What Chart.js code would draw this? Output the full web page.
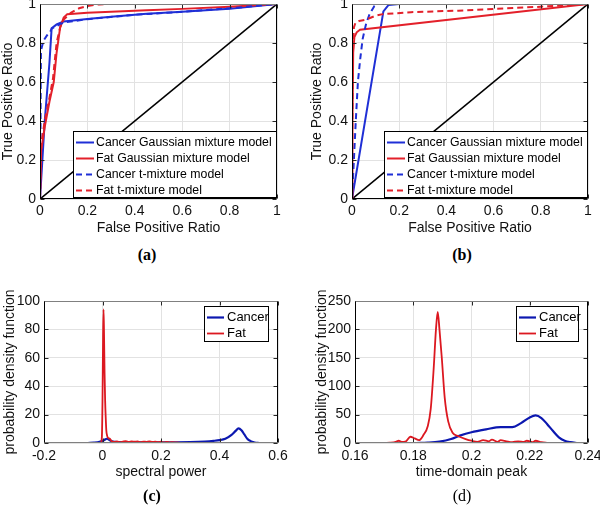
<!DOCTYPE html>
<html>
<head>
<meta charset="utf-8">
<script src="https://cdn.jsdelivr.net/npm/chart.js@4.4.1/dist/chart.umd.min.js"></script>
<style>
  html, body { margin: 0; padding: 0; background: #fff; }
  body { width: 600px; height: 508px; position: relative; overflow: hidden; }
  canvas { position: absolute; }
  .cap { position: absolute; font-family: 'Liberation Serif', 'Times New Roman', serif; font-size: 16px; color: #000; transform: translate(-50%, -50%); white-space: nowrap; }
</style>
</head>
<body>
<canvas id="cA" width="300" height="240" style="left:0;top:0"></canvas>
<canvas id="cB" width="300" height="240" style="left:300px;top:0"></canvas>
<canvas id="cC" width="300" height="210" style="left:0;top:280px"></canvas>
<canvas id="cD" width="300" height="210" style="left:300px;top:280px"></canvas>
<div class="cap" style="left:147px;top:255px;font-weight:bold">(a)</div>
<div class="cap" style="left:462px;top:255px;font-weight:bold">(b)</div>
<div class="cap" style="left:152px;top:496px;font-weight:bold">(c)</div>
<div class="cap" style="left:462px;top:496px">(d)</div>
<script>
// ---------- DATA ----------
const rocLabels = ['Cancer Gaussian mixture model', 'Fat Gaussian mixture model', 'Cancer t-mixture model', 'Fat t-mixture model'];
const pdfLabels = ['Cancer', 'Fat'];
const diagFpr = [0, 1];
const diagTpr = [0, 1];

// (a)
const aCancerGmmFpr = [0, 0.02, 0.04, 0.049, 0.07, 0.1, 0.2, 0.3, 0.45, 0.6, 0.8, 1];
const aCancerGmmTpr = [0, 0.4, 0.7, 0.875, 0.895, 0.91, 0.923, 0.935, 0.95, 0.96, 0.976, 1];
const aFatGmmFpr = [0, 0.005, 0.02, 0.04, 0.058, 0.07, 0.085, 0.1, 0.115, 0.2, 0.3, 0.45, 0.6, 0.8, 1];
const aFatGmmTpr = [0, 0.25, 0.37, 0.5, 0.6, 0.75, 0.88, 0.93, 0.948, 0.955, 0.96, 0.968, 0.975, 0.986, 1];
const aCancerTFpr = [0, 0.002, 0.003, 0.004, 0.014, 0.03, 0.042, 0.05, 0.1, 0.2, 0.4, 0.6, 0.8, 1];
const aCancerTTpr = [0, 0.3, 0.6, 0.76, 0.81, 0.84, 0.855, 0.875, 0.905, 0.922, 0.945, 0.96, 0.978, 1];
const aFatTFpr = [0, 0.005, 0.02, 0.04, 0.055, 0.07, 0.085, 0.1, 0.13, 0.165, 0.2, 0.25, 0.3, 1];
const aFatTTpr = [0, 0.28, 0.4, 0.52, 0.62, 0.8, 0.88, 0.92, 0.955, 0.978, 0.99, 0.998, 1, 1];

// (b)
const bCancerGmmFpr = [0, 0.133, 0.155, 0.2, 1];
const bCancerGmmTpr = [0, 0.962, 0.995, 1, 1];
const bFatGmmFpr = [0, 0.002, 0.005, 0.01, 0.02, 0.034, 1];
const bFatGmmTpr = [0, 0.4, 0.75, 0.83, 0.855, 0.868, 1];
const bCancerTFpr = [0, 0.008, 0.016, 0.025, 0.035, 0.045, 0.06, 0.075, 0.095, 0.11, 1];
const bCancerTTpr = [0, 0.2, 0.4, 0.6, 0.72, 0.82, 0.9, 0.95, 0.99, 1, 1];
const bFatTFpr = [0, 0.002, 0.004, 0.008, 0.015, 0.03, 0.06, 0.1, 0.13, 0.25, 0.45, 0.6, 0.8, 1];
const bFatTTpr = [0, 0.5, 0.75, 0.88, 0.905, 0.913, 0.92, 0.94, 0.948, 0.958, 0.966, 0.975, 0.986, 1];

// (c) spectral power pdf
const cCancerX = [-0.05, -0.03, -0.01, 0.005, 0.015, 0.025, 0.035, 0.05, 0.1, 0.15, 0.2, 0.25, 0.3, 0.35, 0.38, 0.4, 0.42, 0.44, 0.455, 0.465, 0.475, 0.485, 0.495, 0.505, 0.515, 0.525, 0.535];
const cCancerY = [0, 0.2, 0.8, 2, 3, 2, 1, 0.6, 0.5, 0.5, 0.5, 0.5, 0.6, 1, 1.5, 2, 3, 5.5, 8.5, 10.3, 9, 6, 3, 1.5, 0.7, 0.2, 0];
const cFatX = [-0.005, -0.002, 0, 0.002, 0.0035, 0.005, 0.007, 0.009, 0.011, 0.013, 0.016, 0.02, 0.025, 0.03, 0.035, 0.04, 0.05, 0.06, 0.07, 0.08, 0.09, 0.1, 0.11, 0.12, 0.13, 0.14, 0.15, 0.16, 0.17, 0.18, 0.19, 0.2, 0.21, 0.22, 0.23, 0.24, 0.25, 0.26, 0.27];
const cFatY = [0, 5, 30, 75, 94, 80, 50, 30, 18, 9, 5, 3.5, 3, 1.5, 1, 0.8, 1.2, 0.6, 1, 1.3, 0.7, 1.1, 0.9, 1.2, 0.6, 1, 0.8, 1.2, 0.7, 1, 0.6, 0.9, 0.5, 0.8, 0.5, 0.6, 0.4, 0.3, 0];

// (d) time-domain peak pdf
const dCancerX = [0.181, 0.185, 0.189, 0.193, 0.196, 0.2, 0.205, 0.21, 0.214, 0.217, 0.22, 0.222, 0.224, 0.226, 0.228, 0.23, 0.232, 0.234, 0.2365];
const dCancerY = [0, 0.7, 2.5, 7, 13, 19, 24, 28, 28, 35, 45, 48.5, 44, 33, 21, 10, 4, 1.5, 0];
const dFatX = [0.1703, 0.172, 0.174, 0.175, 0.176, 0.1775, 0.179, 0.1805, 0.182, 0.1835, 0.185, 0.186, 0.187, 0.1878, 0.1884, 0.189, 0.1898, 0.1908, 0.192, 0.1935, 0.1955, 0.198, 0.2, 0.202, 0.204, 0.206, 0.207, 0.209, 0.21, 0.212, 0.214, 0.216, 0.218, 0.219, 0.221, 0.222, 0.224, 0.2262];
const dFatY = [0, 0.5, 2, 4, 2, 3, 11, 8, 5, 14, 30, 60, 130, 200, 231, 200, 150, 80, 38, 18, 12, 7, 4, 2, 5, 3, 6, 2, 5, 3, 1.5, 3, 2, 4, 1.5, 4, 1.5, 0];

// ---------- HELPERS ----------
const pts = (xs, ys) => xs.map((x, i) => ({ x: x, y: ys[i] }));
const fmt = v => String(+(+v).toFixed(6));
const BLUE = '#1f2fd6', RED = '#e3202a', DBLUE = '#0c18b0', DRED = '#dc1820';
Chart.defaults.font.family = "'Liberation Sans', Arial, sans-serif";
Chart.defaults.color = '#111';

const framePlugin = {
  id: 'frame',
  afterDatasetsDraw(chart, args, o) {
    const { ctx, chartArea: a, scales: { x, y } } = chart;
    const L = Math.round(a.left) + 0.5, R = Math.round(a.right) - 0.5;
    const T = Math.round(a.top) + 0.5, B = Math.round(a.bottom) - 0.5;
    ctx.save();
    ctx.lineWidth = 1;
    ctx.strokeStyle = '#262626';
    const seg = (x1, y1, x2, y2) => { ctx.beginPath(); ctx.moveTo(x1, y1); ctx.lineTo(x2, y2); ctx.stroke(); };
    x.ticks.forEach(t => { const p = Math.round(x.getPixelForValue(t.value)) + 0.5; seg(p, B, p, B - 4); seg(p, T, p, T + 4); });
    y.ticks.forEach(t => { const p = Math.round(y.getPixelForValue(t.value)) + 0.5; seg(L, p, L + 4, p); seg(R, p, R - 4, p); });
    ctx.strokeStyle = '#808080';
    seg(L, T, R, T);
    ctx.strokeStyle = o.bottomColor || '#000';
    seg(L, B, R, B);
    ctx.strokeStyle = '#000';
    seg(L, T, L, B);
    seg(R, T, R, B);
    ctx.restore();
  }
};

const boxLegend = {
  id: 'boxLegend',
  afterDraw(chart, args, o) {
    if (!o || !o.width) return;
    const ca = chart.chartArea, ctx = chart.ctx;
    const x0 = Math.round(ca.right - o.right - o.width);
    const y0 = Math.round(o.top != null ? ca.top + o.top : ca.bottom - o.bottom - o.height);
    ctx.save();
    ctx.fillStyle = '#fff';
    ctx.fillRect(x0, y0, o.width, o.height);
    ctx.strokeStyle = '#000';
    ctx.lineWidth = 1;
    ctx.strokeRect(x0 + 0.5, y0 + 0.5, o.width - 1, o.height - 1);
    ctx.font = o.font;
    ctx.textBaseline = 'middle';
    ctx.textAlign = 'left';
    chart.data.datasets.filter(d => d.label).forEach((d, i) => {
      const yy = Math.round(y0 + o.firstRow + i * o.rowStep) + 0.5;
      ctx.beginPath();
      ctx.strokeStyle = d.borderColor;
      ctx.lineWidth = d.borderWidth;
      ctx.setLineDash(d.borderDash || []);
      ctx.moveTo(x0 + o.lineStart, yy);
      ctx.lineTo(x0 + o.lineEnd, yy);
      ctx.stroke();
      ctx.setLineDash([]);
      ctx.fillStyle = '#000';
      ctx.fillText(d.label, x0 + o.textStart, yy);
    });
    ctx.restore();
  }
};

function fixScale(size) {
  return function (s) {
    if (s.isHorizontal()) s.height = size; else s.width = size;
    s.paddingLeft = 0; s.paddingRight = 0; s.paddingTop = 0; s.paddingBottom = 0;
  };
}

function makeChart(id, cfg) {
  return new Chart(document.getElementById(id), {
    type: 'line',
    data: { datasets: cfg.datasets },
    options: {
      responsive: false,
      animation: false,
      events: [],
      layout: { padding: cfg.padding },
      elements: { point: { radius: 0 }, line: { tension: 0 } },
      scales: {
        x: {
          type: 'linear', min: cfg.xMin, max: cfg.xMax,
          afterFit: fixScale(40),
          border: { display: false },
          grid: { color: '#e2e2e2', lineWidth: 1, drawTicks: false },
          ticks: { stepSize: cfg.xStep, padding: cfg.xTickPad, font: { size: 14 }, color: '#111', maxRotation: 0, autoSkip: false, callback: fmt },
          title: { display: true, text: cfg.xTitle, font: { size: 14 }, color: '#111', padding: { top: 0, bottom: 2 } }
        },
        y: {
          type: 'linear', min: cfg.yMin, max: cfg.yMax,
          afterFit: fixScale(cfg.yWidth),
          border: { display: false },
          grid: { color: '#e2e2e2', lineWidth: 1, drawTicks: false },
          ticks: { stepSize: cfg.yStep, padding: 4, font: { size: 14 }, color: '#111', autoSkip: false, callback: fmt },
          title: { display: true, text: cfg.yTitle, font: { size: 14 }, color: '#111', padding: { top: cfg.yTitlePad, bottom: 0 } }
        }
      },
      plugins: {
        legend: { display: false },
        tooltip: { enabled: false },
        frame: { bottomColor: cfg.bottomColor },
        boxLegend: cfg.legend
      }
    },
    plugins: [framePlugin, boxLegend]
  });
}

function rocSets(cg, fg, ct, ft) {
  return [
    { label: rocLabels[0], data: cg, borderColor: BLUE, borderWidth: 2, order: 4 },
    { label: rocLabels[1], data: fg, borderColor: RED, borderWidth: 2, order: 3 },
    { label: rocLabels[2], data: ct, borderColor: BLUE, borderWidth: 2, borderDash: [6, 4], order: 2 },
    { label: rocLabels[3], data: ft, borderColor: RED, borderWidth: 2, borderDash: [6, 4], order: 1 },
    { label: '', data: pts(diagFpr, diagTpr), borderColor: '#000', borderWidth: 1.6, order: 9 }
  ];
}

const rocLegend = { width: 204, height: 67, right: 0, bottom: 1, firstRow: 10.5, rowStep: 16.2, lineStart: 3, lineEnd: 21, textStart: 23, font: "12.3px 'Liberation Sans', Arial, sans-serif" };

makeChart('cA', {
  datasets: rocSets(pts(aCancerGmmFpr, aCancerGmmTpr), pts(aFatGmmFpr, aFatGmmTpr), pts(aCancerTFpr, aCancerTTpr), pts(aFatTFpr, aFatTTpr)),
  padding: { left: 0, right: 23, top: 4, bottom: 1 },
  xMin: 0, xMax: 1, xStep: 0.2, yMin: 0, yMax: 1, yStep: 0.2,
  yWidth: 40, yTitlePad: 0, xTickPad: 4,
  xTitle: 'False Positive Ratio', yTitle: 'True Positive Ratio',
  bottomColor: '#000', legend: rocLegend
});

makeChart('cB', {
  datasets: rocSets(pts(bCancerGmmFpr, bCancerGmmTpr), pts(bFatGmmFpr, bFatGmmTpr), pts(bCancerTFpr, bCancerTTpr), pts(bFatTFpr, bFatTTpr)),
  padding: { left: 0, right: 12, top: 4, bottom: 1 },
  xMin: 0, xMax: 1, xStep: 0.2, yMin: 0, yMax: 1, yStep: 0.2,
  yWidth: 52, yTitlePad: 9, xTickPad: 4,
  xTitle: 'False Positive Ratio', yTitle: 'True Positive Ratio',
  bottomColor: '#000', legend: rocLegend
});

const pdfLegendC = { width: 65, height: 36, right: 9, top: 5, firstRow: 11, rowStep: 16, lineStart: 3, lineEnd: 20, textStart: 23, font: "13px 'Liberation Sans', Arial, sans-serif" };
const pdfLegendD = Object.assign({}, pdfLegendC, { width: 63 });

function pdfSets(cancer, fat) {
  return [
    { label: pdfLabels[0], data: cancer, borderColor: DBLUE, borderWidth: 2.2, cubicInterpolationMode: 'monotone', order: 2 },
    { label: pdfLabels[1], data: fat, borderColor: DRED, borderWidth: 1.8, cubicInterpolationMode: 'monotone', order: 1 }
  ];
}

makeChart('cC', {
  datasets: pdfSets(pts(cCancerX, cCancerY), pts(cFatX, cFatY)),
  padding: { left: 0, right: 22, top: 21, bottom: 7 },
  xMin: -0.2, xMax: 0.6, xStep: 0.2, yMin: 0, yMax: 100, yStep: 20,
  yWidth: 44, yTitlePad: 2, xTickPad: 5,
  xTitle: 'spectral power', yTitle: 'probability density function',
  bottomColor: '#808080', legend: pdfLegendC
});

makeChart('cD', {
  datasets: pdfSets(pts(dCancerX, dCancerY), pts(dFatX, dFatY)),
  padding: { left: 0, right: 12, top: 21, bottom: 7 },
  xMin: 0.16, xMax: 0.24, xStep: 0.02, yMin: 0, yMax: 250, yStep: 50,
  yWidth: 55, yTitlePad: 14, xTickPad: 5,
  xTitle: 'time-domain peak', yTitle: 'probability density function',
  bottomColor: '#808080', legend: pdfLegendD
});
</script>
</body>
</html>
